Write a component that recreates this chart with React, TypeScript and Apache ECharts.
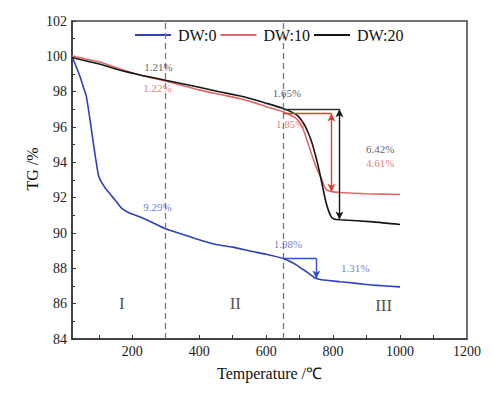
import React, { useEffect, useRef } from "react";
import * as echarts from "echarts";

const FONT = "'Liberation Serif', 'Times New Roman', serif";

const seriesNames = ["DW:0", "DW:10", "DW:20"];
const seriesColors = ["#2f3fc0", "#e06868", "#151515"];

const dw0: number[][] = [
  [20, 100], [35, 99.3], [45, 98.8], [55, 98.2], [62, 97.8], [70, 96.9], [80, 95.6], [90, 94.3],
  [100, 93.2], [112, 92.75], [125, 92.4], [149, 91.86], [169, 91.39], [190, 91.15], [222, 90.92],
  [260, 90.6], [297, 90.26], [350, 89.93], [402, 89.6], [450, 89.35], [500, 89.2], [552, 88.98],
  [600, 88.8], [651, 88.56], [670, 88.4], [691, 88.18], [705, 88.0], [721, 87.8], [735, 87.6],
  [746, 87.45], [765, 87.35], [821, 87.24], [870, 87.15], [920, 87.05], [1000, 86.95],
];

const dw10: number[][] = [
  [20, 100.03], [60, 99.85], [104, 99.68], [164, 99.28], [230, 98.9], [299, 98.6], [400, 98.1],
  [460, 97.85], [523, 97.6], [552, 97.45], [600, 97.15], [652, 96.85], [692, 96.45], [710, 95.9],
  [722, 95.25], [735, 94.5], [750, 93.7], [767, 92.99], [775, 92.6], [782, 92.42], [800, 92.33],
  [823, 92.29], [900, 92.22], [1000, 92.18],
];

const dw20: number[][] = [
  [20, 99.93], [60, 99.75], [104, 99.55], [164, 99.21], [230, 98.92], [299, 98.65], [400, 98.25],
  [460, 98.0], [523, 97.75], [552, 97.61], [600, 97.35], [652, 97.04], [692, 96.67], [712, 96.2],
  [725, 95.7], [737, 95.1], [750, 94.2], [760, 93.4], [771, 92.4], [778, 91.8], [786, 91.28],
  [795, 90.9], [805, 90.78], [820, 90.75], [920, 90.63], [1000, 90.48],
];

const stageBounds = [300, 650];
const xTickLabels = [200, 400, 600, 800, 1000, 1200];
const xTicks = [100, 200, 300, 400, 500, 600, 700, 800, 900, 1000, 1100];

// annotation brackets: [x1, y1, x2, y2, color, arrow]
const brackets: [number, number, number, number, string, string][] = [
  [650, 97.0, 819, 97.0, "#333333", "none"],
  [819, 97.0, 819, 90.77, "#151515", "both"],
  [650, 96.76, 795, 96.76, "#d8402e", "none"],
  [795, 96.76, 795, 92.33, "#d8402e", "both"],
  [650, 88.56, 750, 88.56, "#2f4fd0", "none"],
  [750, 88.56, 750, 87.43, "#2f4fd0", "end"],
];

// text notes: [x, y, text, color, size]
const notes: [number, number, string, string, number][] = [
  [278, 99.4, "1.21%", "#333333", 11],
  [275, 98.18, "1.22%", "#e05a50", 11],
  [275, 91.48, "9.29%", "#4a5ad0", 11],
  [662, 97.9, "1.65%", "#333333", 11],
  [672, 96.16, "1.85%", "#e05a50", 11],
  [941, 94.78, "6.42%", "#333333", 11],
  [941, 93.97, "4.61%", "#e05a50", 11],
  [665, 89.35, "1.98%", "#4a5ad0", 11],
  [866, 88.0, "1.31%", "#4a5ad0", 11],
  [169, 86.02, "I", "#222222", 17],
  [508, 86.02, "II", "#222222", 17],
  [951, 85.92, "III", "#222222", 17],
];

export default function App() {
  const ref = useRef<HTMLDivElement>(null);
  useEffect(() => {
    if (!ref.current) return;
    const chart = echarts.init(ref.current, null, { renderer: "svg" });
    const markData: any[] = stageBounds.map((v) => ({
      xAxis: v,
      symbol: "none",
      lineStyle: { color: "#777777", type: [6, 4], width: 1.3 },
    }));
    brackets.forEach(([x1, y1, x2, y2, c, arrow]) => {
      const sym =
        arrow === "both" ? ["arrow", "arrow"] : arrow === "end" ? ["none", "arrow"] : ["none", "none"];
      markData.push([
        { coord: [x1, y1], symbol: sym[0], lineStyle: { color: c, width: 1.4, type: "solid" }, itemStyle: { color: c } },
        { coord: [x2, y2], symbol: sym[1], itemStyle: { color: c } },
      ]);
    });
    const lineSeries = [dw0, dw10, dw20].map((d, i) => ({
      name: seriesNames[i],
      type: "line",
      data: d,
      symbol: "none",
      showSymbol: false,
      smooth: 0.2,
      lineStyle: { color: seriesColors[i], width: 1.6 },
      itemStyle: { color: seriesColors[i] },
      z: 3,
      ...(i === 0
        ? {
            markLine: {
              silent: true,
              animation: false,
              symbol: "none",
              symbolSize: [6, 8],
              label: { show: false },
              data: markData,
            },
          }
        : {}),
    }));
    chart.setOption({
      animation: false,
      textStyle: { fontFamily: FONT },
      grid: {
        left: 72,
        right: 25,
        top: 21,
        bottom: 55,
        show: true,
        borderColor: "#444",
        borderWidth: 1.5,
      },
      legend: {
        data: seriesNames,
        top: 22,
        left: 130,
        icon: "rect",
        itemWidth: 36,
        itemHeight: 2,
        itemGap: 4,
        textStyle: { fontFamily: FONT, fontSize: 16, color: "#111", padding: [0, 0, 0, 2] },
      },
      xAxis: {
        type: "value",
        min: 20,
        max: 1200,
        name: "Temperature /℃",
        nameLocation: "middle",
        nameGap: 26,
        nameTextStyle: { fontFamily: FONT, fontSize: 16, color: "#111" },
        axisLine: { lineStyle: { color: "#333", width: 1.5 } },
        axisTick: { inside: true, length: 4, customValues: xTicks, lineStyle: { color: "#333" } },
        axisLabel: {
          customValues: xTickLabels,
          formatter: (v: number) => String(v),
          fontSize: 14,
          color: "#222",
          margin: 5,
          fontFamily: FONT,
        },
        splitLine: { show: false },
      },
      yAxis: {
        type: "value",
        min: 84,
        max: 102,
        interval: 2,
        axisLine: { show: true, lineStyle: { color: "#333", width: 1.5 } },
        axisTick: { show: true, inside: true, length: 4, lineStyle: { color: "#333" } },
        minorTick: { show: true, splitNumber: 2, length: 3, lineStyle: { color: "#333" } },
        axisLabel: { fontSize: 14, color: "#222", margin: 5, fontFamily: FONT },
        splitLine: { show: false },
      },
      graphic: [
        {
          type: "text",
          x: 32,
          y: 169,
          rotation: Math.PI / 2,
          style: {
            text: "TG /%",
            font: `16px ${FONT}`,
            fill: "#111",
            align: "center",
            verticalAlign: "middle",
          },
        },
      ],
      series: [
        ...lineSeries,
        {
          name: "notes",
          type: "scatter",
          silent: true,
          symbolSize: 0,
          z: 5,
          data: notes.map(([x, y, t, c, s]) => ({
            value: [x, y],
            name: t,
            label: { color: c, fontSize: s },
          })),
          label: {
            show: true,
            position: "inside",
            formatter: "{b}",
            fontFamily: FONT,
          },
        },
      ],
    });
    return () => chart.dispose();
  }, []);
  return <div ref={ref} style={{ width: 492, height: 394, position: "absolute", left: 0, top: 0 }} />;
}
